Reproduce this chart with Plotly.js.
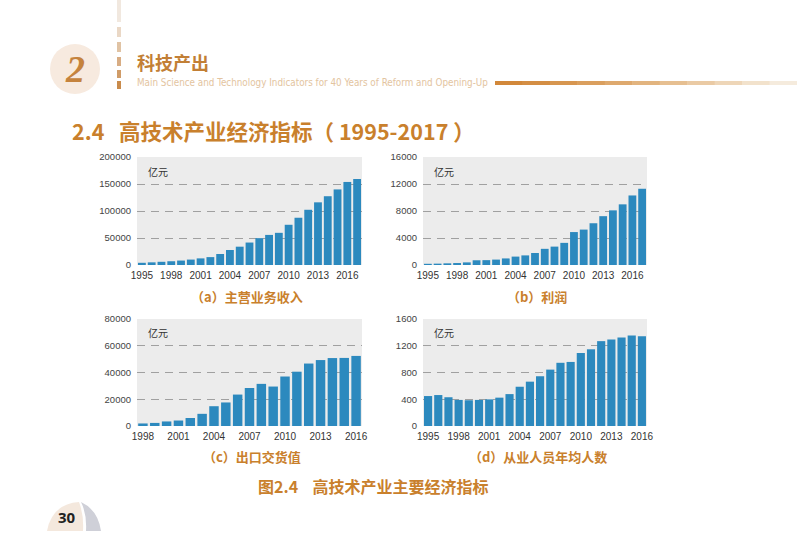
<!DOCTYPE html>
<html><head><meta charset="utf-8">
<script src="https://cdn.plot.ly/plotly-3.0.1.min.js"></script>
<style>html,body{margin:0;padding:0;background:#fff;}#chart{width:797px;height:551px;}</style>
</head><body><div id="chart"></div>
<script>
// ---------- data ----------
const yearsRevenue = [1995,1996,1997,1998,1999,2000,2001,2002,2003,2004,2005,2006,2007,2008,2009,2010,2011,2012,2013,2014,2015,2016,2017];
const revenue = [4098,4909,5930,6950,8217,10034,12263,14614,20412,27769,33922,41585,49714,55729,59567,74483,87527,102284,116049,127368,139969,153796,159376];
const yearsProfit = [1995,1996,1997,1998,1999,2000,2001,2002,2003,2004,2005,2006,2007,2008,2009,2010,2011,2012,2013,2014,2015,2016,2017];
const profit = [178,202,248,292,388,700,720,800,975,1245,1423,1777,2396,2725,3279,4880,5245,6186,7234,8095,8986,10302,11295];
const yearsExport = [1998,1999,2000,2001,2002,2003,2004,2005,2006,2007,2008,2009,2010,2011,2012,2013,2014,2015,2016];
const exportValue = [1900,2300,3400,4100,6000,9100,14800,17600,23500,28400,31500,29500,37000,40600,46700,49300,50800,50900,52400];
const yearsEmployees = [1995,1996,1997,1998,1999,2000,2001,2002,2003,2004,2005,2006,2007,2008,2009,2010,2011,2012,2013,2014,2015,2016];
const employees = [448,463,430,390,385,390,398,424,477,587,663,744,843,945,958,1092,1147,1269,1294,1325,1354,1342];

const xTicksA = [1995,1998,2001,2004,2007,2010,2013,2016];
const xTicksC = [1998,2001,2004,2007,2010,2013,2016];
const yTicksA = [0,50000,100000,150000,200000];
const yTicksB = [0,4000,8000,12000,16000];
const yTicksC = [0,20000,40000,60000,80000];
const yTicksD = [0,400,800,1200,1600];
const unitLabel = '亿元';
const subTitles = ['（a）主营业务收入','（b）利润','（c）出口交货值','（d）从业人员年均人数'];
const pageTitle = '2.4&#160;&#160;&#160;高技术产业经济指标（&#160;1995-2017&#160;）';
const figCaption = '图2.4&#160;&#160;&#160;&#160;高技术产业主要经济指标';
const chapterTitle = '科技产出';
const chapterSub = 'Main Science and Technology Indicators for 40 Years of Reform and Opening-Up';

// ---------- helpers ----------
const W = 797, H = 551;
const px = x => x / W;
const py = y => 1 - y / H;
const BAR = '#2c89be';
const ORANGE = '#c9802c';
const CJK = '"Noto Sans CJK SC", "Noto Sans", sans-serif';
const NUM = '"Liberation Sans", Arial, sans-serif';

function bar(x, y, xa, ya) {
  return {type: 'bar', x: x, y: y, xaxis: xa, yaxis: ya, marker: {color: BAR}, hoverinfo: 'skip', showlegend: false};
}
function gridHolder(xa, ya) {
  return {type: 'scatter', mode: 'none', x: [], y: [], xaxis: xa, yaxis: ya, hoverinfo: 'skip', showlegend: false};
}
function xAxis(dom, anchor, rng, ticks) {
  return {domain: dom, anchor: anchor, range: rng, tickmode: 'array', tickvals: ticks, ticktext: ticks.map(String),
    ticks: '', showgrid: false, zeroline: false, showline: false, fixedrange: true,
    tickfont: {family: NUM, size: 10, color: '#333'}, ticklabelstandoff: 3};
}
function yAxis(dom, anchor, ticks) {
  return {domain: dom, anchor: anchor, range: [ticks[0], ticks[ticks.length-1]], tickmode: 'array', tickvals: ticks,
    ticktext: ticks.map(String), ticks: '', showgrid: false, zeroline: false, showline: false, fixedrange: true,
    tickfont: {family: NUM, size: 9.5, color: '#444'}, ticklabelstandoff: 5};
}
function gridAxis(over, anchor, ticks) {
  return {overlaying: over, anchor: anchor, range: [ticks[0], ticks[ticks.length-1]], tickmode: 'array',
    tickvals: ticks.slice(1, -1), showticklabels: false, ticks: '', showgrid: true, gridcolor: '#a0a0a0',
    griddash: '8px,6px', gridwidth: 1, zeroline: false, showline: false, fixedrange: true};
}

const domXL = [px(137), px(362)], domXR = [px(423), px(647)];
const domYT = [py(265), py(157)], domYB = [py(426), py(319)];

const data = [
  gridHolder('x', 'y5'), gridHolder('x2', 'y6'), gridHolder('x3', 'y7'), gridHolder('x4', 'y8'),
  bar(yearsRevenue, revenue, 'x', 'y'),
  bar(yearsProfit, profit, 'x2', 'y2'),
  bar(yearsExport, exportValue, 'x3', 'y3'),
  bar(yearsEmployees, employees, 'x4', 'y4')
];

function ann(text, x, y, size, color, bold, xanchor, family) {
  return {text: bold ? '<b>' + text + '</b>' : text, x: px(x), y: py(y), xref: 'paper', yref: 'paper',
    xanchor: xanchor || 'center', yanchor: 'middle', showarrow: false,
    font: {family: family || CJK, size: size, color: color}};
}
function unitAnn(xa, ya, yy) {
  return {text: unitLabel, xref: xa + ' domain', yref: ya + ' domain', x: 0.04, y: yy, xanchor: 'left', yanchor: 'middle',
    showarrow: false, font: {family: CJK, size: 10, color: '#333'}};
}

const annotations = [
  unitAnn('x', 'y', 0.87), unitAnn('x2', 'y2', 0.87), unitAnn('x3', 'y3', 0.87), unitAnn('x4', 'y4', 0.87),
  ann(subTitles[0], 247, 296, 13, ORANGE, true),
  ann(subTitles[1], 537, 296, 13, ORANGE, true),
  ann(subTitles[2], 252, 456, 13, ORANGE, true),
  ann(subTitles[3], 538, 456, 13, ORANGE, true),
  ann(pageTitle, 70, 130, 21.5, ORANGE, true, 'left'),
  ann(figCaption, 256, 486, 16, ORANGE, true, 'left'),
  ann(chapterTitle, 135, 62, 18, '#c27f36', true, 'left'),
  ann(chapterSub, 135, 82, 9.8, '#e3c4a0', false, 'left', '"Liberation Sans Narrow", "DejaVu Sans Condensed", "Arial Narrow", "Liberation Sans", sans-serif'),
  ann('<b><i>2</i></b>', 75, 69, 38, '#c5833d', false, 'center', '"Liberation Serif", "DejaVu Serif", serif'),
  ann('30', 67, 517, 15, '#222', true, 'center', '"Open Sans", "Liberation Sans", sans-serif')
];

function rect(x0, y0, x1, y1, color) {
  return {type: 'rect', xref: 'paper', yref: 'paper', x0: px(x0), x1: px(x1), y0: py(y1), y1: py(y0),
    fillcolor: color, line: {width: 0}, layer: 'below'};
}
const shapes = [
  {type: 'circle', xref: 'paper', yref: 'paper', x0: px(50), x1: px(100), y0: py(94), y1: py(44),
    fillcolor: '#f7eadf', line: {width: 0}, layer: 'below'},
  rect(117, 0, 121, 22, '#f1e8df'),
  rect(117, 27, 121, 37, '#ead8c6'),
  rect(117, 42, 121, 52, '#e0c3a4'),
  rect(117, 57, 121, 66, '#d8ad84'),
  rect(117, 70, 121, 78, '#d09c68'),
  rect(117, 81, 121, 89, '#c98b4c'),
];
const lineStops = ['#d2883a','#d48e44','#d79650','#da9f5e','#dea96e','#e2b47f','#e6bf91','#eacaa4','#eed6b8','#f2e2cc','#f5ebdd'];
const lx0 = 495, lx1 = 797;
for (let i = 0; i < lineStops.length; i++) {
  const a = lx0 + (lx1 - lx0) * i / lineStops.length, b = lx0 + (lx1 - lx0) * (i + 1) / lineStops.length;
  shapes.push(rect(a, 81, b + 0.5, 85, lineStops[i]));
}
shapes.push({type: 'path', xref: 'paper', yref: 'paper', layer: 'below',
  path: `M ${px(47)} ${py(531)} Q ${px(52)} ${py(504)} ${px(79)} ${py(502)} Q ${px(84)} ${py(515)} ${px(83)} ${py(531)} Z`,
  fillcolor: '#f4e8dd', line: {width: 0}});
shapes.push({type: 'path', xref: 'paper', yref: 'paper', layer: 'below',
  path: `M ${px(81)} ${py(502)} Q ${px(98)} ${py(510)} ${px(101)} ${py(531)} L ${px(86)} ${py(531)} Q ${px(87)} ${py(514)} ${px(81)} ${py(502)} Z`,
  fillcolor: '#cfd0d8', line: {width: 0}});

const layout = {
  width: W, height: H, margin: {l: 0, r: 0, t: 0, b: 0},
  paper_bgcolor: '#ffffff', plot_bgcolor: '#ececec',
  bargap: 0.2, showlegend: false,
  xaxis: xAxis(domXL, 'y', [1994.5, 2017.5], xTicksA),
  yaxis: yAxis(domYT, 'x', yTicksA),
  xaxis2: xAxis(domXR, 'y2', [1994.5, 2017.5], xTicksA),
  yaxis2: yAxis(domYT, 'x2', yTicksB),
  xaxis3: xAxis(domXL, 'y3', [1997.5, 2016.5], xTicksC),
  yaxis3: yAxis(domYB, 'x3', yTicksC),
  xaxis4: xAxis(domXR, 'y4', [1994.5, 2016.5], xTicksA),
  yaxis4: yAxis(domYB, 'x4', yTicksD),
  yaxis5: gridAxis('y', 'x', yTicksA),
  yaxis6: gridAxis('y2', 'x2', yTicksB),
  yaxis7: gridAxis('y3', 'x3', yTicksC),
  yaxis8: gridAxis('y4', 'x4', yTicksD),
  annotations: annotations,
  shapes: shapes
};

Plotly.newPlot('chart', data, layout, {displayModeBar: false, staticPlot: true});
</script>
</body></html>
